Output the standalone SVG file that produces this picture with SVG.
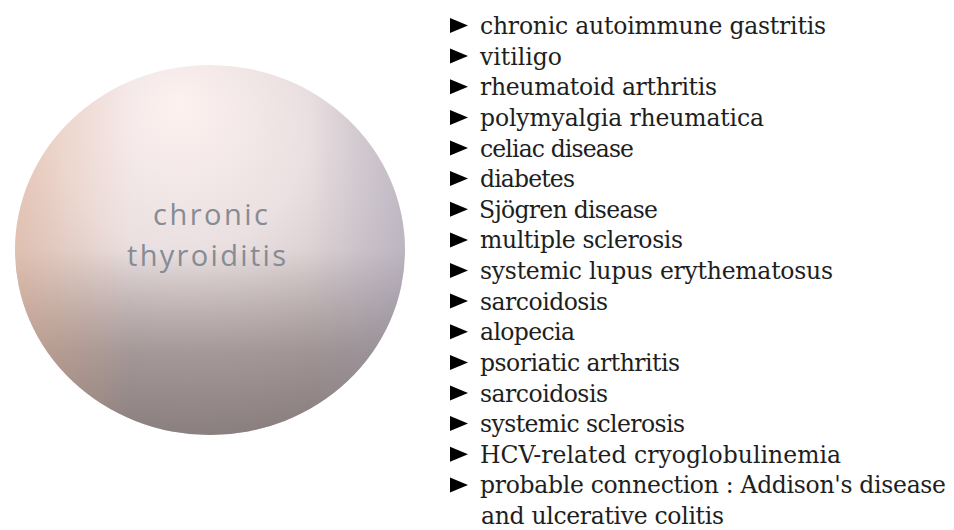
<svg xmlns="http://www.w3.org/2000/svg" width="954" height="530" viewBox="0 0 954 530">
  <defs>
    <radialGradient id="sphere" cx="0.45" cy="0.3" r="0.8" fx="0.42" fy="0.1">
      <stop offset="0" stop-color="#fdf1f0"/>
      <stop offset="0.4" stop-color="#ebe0e1"/>
      <stop offset="0.75" stop-color="#c8bdbf"/>
      <stop offset="1" stop-color="#a69c9e"/>
    </radialGradient>
    <linearGradient id="shade" x1="0" y1="0" x2="0" y2="1">
      <stop offset="0.5" stop-color="#7a6c6a" stop-opacity="0"/>
      <stop offset="0.78" stop-color="#7a6c6a" stop-opacity="0.5"/>
      <stop offset="1" stop-color="#746867" stop-opacity="0.65"/>
    </linearGradient>
    <linearGradient id="tint" x1="0" y1="0" x2="1" y2="0">
      <stop offset="0" stop-color="#f2b48c" stop-opacity="0.4"/>
      <stop offset="0.3" stop-color="#f2b48c" stop-opacity="0"/>
      <stop offset="0.75" stop-color="#a0a4c8" stop-opacity="0"/>
      <stop offset="1" stop-color="#a0a4c8" stop-opacity="0.28"/>
    </linearGradient>
    <polygon id="bullet" points="0,-16 18,-8.5 0,-1" fill="#000"/>
  </defs>
  <style>
    .item { font-family: "DejaVu Serif", "Liberation Serif", serif; font-size: 23.5px; fill: #1e1e1e; }
    .center { font-family: "Open Sans", "Lato", sans-serif; font-size: 29px; fill: #858c94; }
  </style>

  <g id="node-chronic-thyroiditis">
    <ellipse cx="210" cy="250" rx="195" ry="185" fill="url(#sphere)"/>
    <ellipse cx="210" cy="250" rx="195" ry="185" fill="url(#shade)"/>
    <ellipse cx="210" cy="250" rx="195" ry="185" fill="url(#tint)"/>
    <text class="center" x="210.5" y="225" text-anchor="middle" textLength="115" lengthAdjust="spacing">chronic</text>
    <text class="center" x="206.5" y="266" text-anchor="middle" textLength="159" lengthAdjust="spacing">thyroiditis</text>
  </g>

  <g id="connectors"></g>

  <g id="node-list">
    <use href="#bullet" x="450" y="34"/>
    <text class="item" x="480" y="34" textLength="346">chronic autoimmune gastritis</text>
    <use href="#bullet" x="450" y="64.6"/>
    <text class="item" x="480" y="64.6" textLength="82">vitiligo</text>
    <use href="#bullet" x="450" y="95.3"/>
    <text class="item" x="480" y="95.3" textLength="237">rheumatoid arthritis</text>
    <use href="#bullet" x="450" y="125.9"/>
    <text class="item" x="480" y="125.9" textLength="284">polymyalgia rheumatica</text>
    <use href="#bullet" x="450" y="156.5"/>
    <text class="item" x="480" y="156.5" textLength="154">celiac disease</text>
    <use href="#bullet" x="450" y="187.1"/>
    <text class="item" x="480" y="187.1" textLength="95">diabetes</text>
    <use href="#bullet" x="450" y="217.8"/>
    <text class="item" x="479" y="217.8" textLength="179">Sjögren disease</text>
    <use href="#bullet" x="450" y="248.4"/>
    <text class="item" x="480" y="248.4" textLength="203">multiple sclerosis</text>
    <use href="#bullet" x="450" y="279"/>
    <text class="item" x="480" y="279" textLength="353">systemic lupus erythematosus</text>
    <use href="#bullet" x="450" y="309.6"/>
    <text class="item" x="480" y="309.6" textLength="128">sarcoidosis</text>
    <use href="#bullet" x="450" y="340.3"/>
    <text class="item" x="480" y="340.3" textLength="95">alopecia</text>
    <use href="#bullet" x="450" y="370.9"/>
    <text class="item" x="480" y="370.9" textLength="200">psoriatic arthritis</text>
    <use href="#bullet" x="450" y="401.5"/>
    <text class="item" x="480" y="401.5" textLength="128">sarcoidosis</text>
    <use href="#bullet" x="450" y="432.1"/>
    <text class="item" x="480" y="432.1" textLength="205">systemic sclerosis</text>
    <use href="#bullet" x="450" y="462.8"/>
    <text class="item" x="480" y="462.8" textLength="361">HCV-related cryoglobulinemia</text>
    <use href="#bullet" x="450" y="493.4"/>
    <text class="item" x="480" y="493.4" textLength="466">probable connection : Addison's disease</text>
    <text class="item" x="481" y="524" textLength="243">and ulcerative colitis</text>
  </g>
</svg>
